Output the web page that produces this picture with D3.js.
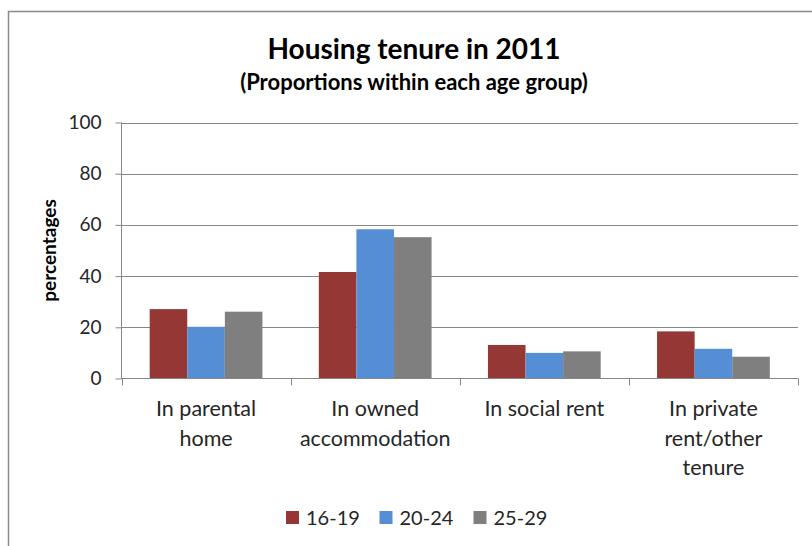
<!DOCTYPE html>
<html>
<head>
<meta charset="utf-8">
<script src="https://cdn.jsdelivr.net/npm/d3@7"></script>
<style>
  html, body { margin: 0; padding: 0; background: #fff; }
  svg { display: block; }
</style>
</head>
<body>
<svg id="chart" width="812" height="546"></svg>
<script>
// Housing tenure by age group, 2011 (percent within each age group)
const categories = [
  ["In parental", "home"],
  ["In owned", "accommodation"],
  ["In social rent"],
  ["In private", "rent/other", "tenure"]
];
const seriesNames = ["16-19", "20-24", "25-29"];
const seriesColors = ["#953735", "#558ED5", "#7F7F7F"];
const values1619 = [27.1, 41.6, 13.1, 18.4];
const values2024 = [20.2, 58.3, 10.0, 11.6];
const values2529 = [26.1, 55.2, 10.6, 8.5];
const yTicks = [0, 20, 40, 60, 80, 100];

const seriesValues = [values1619, values2024, values2529];
const font = "Lato, 'Open Sans', sans-serif";
const gridColor = "#868686";

const svg = d3.select("#chart");

// chart frame
svg.append("rect")
  .attr("x", 8.5).attr("y", 11.5)
  .attr("width", 820).attr("height", 560)
  .attr("fill", "#fff")
  .attr("stroke", "#8a8a8a")
  .attr("stroke-width", 1.5);

const plot = { left: 121.5, right: 798, top: 122.5, bottom: 378.5 };

const catKeys = categories.map((c, i) => i);
const x = d3.scaleBand()
  .domain(catKeys)
  .range([plot.left, plot.right])
  .paddingInner(1 / 3)
  .paddingOuter(1 / 6);
const xSub = d3.scaleBand()
  .domain(seriesNames)
  .range([0, x.bandwidth()]);
const y = d3.scaleLinear().domain([0, 100]).range([plot.bottom, plot.top]);

// horizontal gridlines
svg.append("g")
  .selectAll("line")
  .data(yTicks.filter(t => t > 0))
  .join("line")
  .attr("x1", plot.left).attr("x2", plot.right)
  .attr("y1", d => Math.round(y(d)) + 0.5).attr("y2", d => Math.round(y(d)) + 0.5)
  .attr("stroke", gridColor).attr("stroke-width", 1);

// bars
const groups = svg.append("g")
  .selectAll("g")
  .data(catKeys)
  .join("g")
  .attr("transform", i => `translate(${x(i)},0)`);

groups.selectAll("rect")
  .data(i => seriesNames.map((s, k) => ({ s, k, v: seriesValues[k][i] })))
  .join("rect")
  .attr("x", d => xSub(d.s))
  .attr("width", xSub.bandwidth())
  .attr("y", d => y(d.v))
  .attr("height", d => y(0) - y(d.v))
  .attr("fill", d => seriesColors[d.k]);

// y axis
const yAxis = d3.axisLeft(y).tickValues(yTicks).tickSize(6).tickPadding(14).tickFormat(d3.format("d"));
const yg = svg.append("g")
  .attr("transform", `translate(${plot.left},0)`)
  .call(yAxis);
yg.select(".domain").attr("stroke", gridColor).attr("d", `M0,${plot.top}V${plot.bottom + 0.5}`);
yg.selectAll(".tick line").attr("stroke", gridColor);
yg.selectAll(".tick text")
  .attr("font-family", font).attr("font-size", 19).attr("fill", "#262626");

// x axis line with boundary ticks between categories
const boundaries = catKeys.map(i => x(i) - x.step() * x.paddingInner() / 2).concat([plot.right]);
const xg = svg.append("g");
xg.append("line")
  .attr("x1", plot.left).attr("x2", plot.right)
  .attr("y1", plot.bottom).attr("y2", plot.bottom)
  .attr("stroke", gridColor);
xg.selectAll("line.b")
  .data(boundaries)
  .join("line")
  .attr("class", "b")
  .attr("x1", d => Math.round(d) + 0.5).attr("x2", d => Math.round(d) + 0.5)
  .attr("y1", plot.bottom).attr("y2", plot.bottom + 7)
  .attr("stroke", gridColor);

// category labels
const catLabels = svg.append("g")
  .selectAll("text")
  .data(catKeys)
  .join("text")
  .attr("x", i => x(i) + x.bandwidth() / 2)
  .attr("y", 416)
  .attr("text-anchor", "middle")
  .attr("font-family", font).attr("font-size", 21.5).attr("fill", "#262626");
catLabels.selectAll("tspan")
  .data(i => categories[i].map(line => ({ line, cx: x(i) + x.bandwidth() / 2 })))
  .join("tspan")
  .attr("x", d => d.cx)
  .attr("dy", (d, j) => j === 0 ? 0 : 29.5)
  .text(d => d.line);

// y axis title
svg.append("text")
  .attr("transform", `translate(56,${(plot.top + plot.bottom) / 2}) rotate(-90)`)
  .attr("text-anchor", "middle")
  .attr("font-family", font).attr("font-size", 19).attr("font-weight", "bold")
  .attr("fill", "#000")
  .text("percentages");

// titles
svg.append("text")
  .attr("x", 414).attr("y", 59)
  .attr("text-anchor", "middle")
  .attr("font-family", font).attr("font-size", 28).attr("font-weight", "bold")
  .attr("fill", "#000")
  .text("Housing tenure in 2011");
svg.append("text")
  .attr("x", 414).attr("y", 90)
  .attr("text-anchor", "middle")
  .attr("font-family", font).attr("font-size", 22).attr("font-weight", "bold")
  .attr("fill", "#000")
  .text("(Proportions within each age group)");

// legend
const legendX = [286, 379.5, 473.5];
const legend = svg.append("g")
  .selectAll("g")
  .data(seriesNames)
  .join("g")
  .attr("transform", (d, k) => `translate(${legendX[k]},511)`);
legend.append("rect")
  .attr("width", 13).attr("height", 13)
  .attr("fill", (d, k) => seriesColors[k]);
legend.append("text")
  .attr("x", 20).attr("y", 14)
  .attr("font-family", font).attr("font-size", 20).attr("fill", "#262626")
  .text(d => d);
</script>
</body>
</html>
